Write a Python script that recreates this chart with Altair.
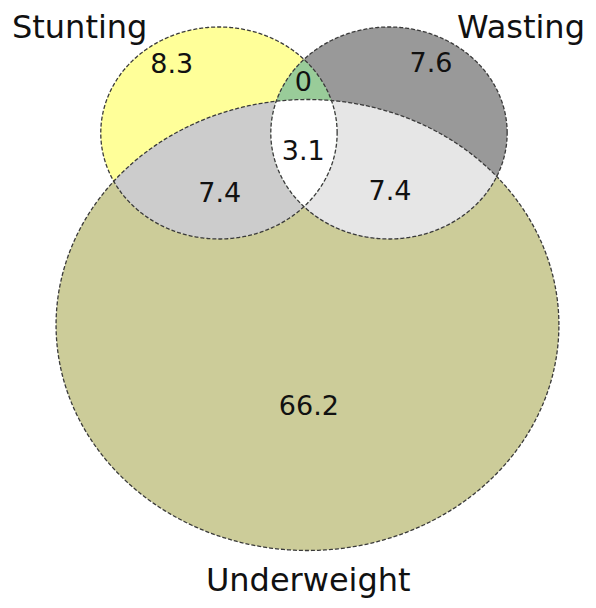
import altair as alt
import numpy as np
import pandas as pd

# ---------------- data ----------------
set_names = ["Stunting", "Wasting", "Underweight"]
region_names = ["Stunting only", "Wasting only", "Underweight only",
                "Stunting & Underweight", "Wasting & Underweight",
                "Stunting & Wasting", "All three"]
region_values = ["8.3", "7.6", "66.2", "7.4", "7.4", "0", "3.1"]

# ---------------- layout (geometry, venn units) ----------------
circle_cx = [-0.794, 0.731, 0.0]
circle_cy = [1.92, 1.92, 0.0]
circle_r = [1.06, 1.06, 2.255]

set_label_x = [-2.043, 1.915, 0.007]
set_label_y = [2.87, 2.87, -2.66]
region_label_x = [-1.218, 1.108, 0.013, -0.787, 0.74, -0.038, -0.038]
region_label_y = [2.517, 2.53, -0.90, 1.233, 1.25, 2.343, 1.65]

# painter's order: (members, colour)
paint_steps = [
    ([2], "#cccc99"),        # Underweight disk
    ([0], "#ffff99"),        # Stunting disk
    ([1], "#999999"),        # Wasting disk
    ([0, 2], "#cccccc"),     # Stunting & Underweight
    ([1, 2], "#e6e6e6"),     # Wasting & Underweight
    ([0, 1], "#99cc99"),     # Stunting & Wasting
    ([0, 1, 2], "#ffffff"),  # all three
]


def shape_rows(key, members, n=900):
    lo_x = max(circle_cx[i] - circle_r[i] for i in members)
    hi_x = min(circle_cx[i] + circle_r[i] for i in members)
    t = np.linspace(0, np.pi, n)
    xs = (lo_x + hi_x) / 2 - (hi_x - lo_x) / 2 * np.cos(t)
    lo = np.full(n, -np.inf)
    hi = np.full(n, np.inf)
    for i in members:
        h = np.sqrt(np.clip(circle_r[i] ** 2 - (xs - circle_cx[i]) ** 2, 0, None))
        lo = np.maximum(lo, circle_cy[i] - h)
        hi = np.minimum(hi, circle_cy[i] + h)
    keep = hi >= lo
    return pd.DataFrame({"shape": key, "x": xs[keep], "y": lo[keep], "y2": hi[keep]})


shapes = pd.concat([shape_rows(f"s{k}", m) for k, (m, _) in enumerate(paint_steps)],
                   ignore_index=True)

outline_rows = []
ang = np.linspace(0, 2 * np.pi, 721)
for i, name in enumerate(set_names):
    for j, a in enumerate(ang):
        outline_rows.append({"circle": name, "idx": j,
                             "x": circle_cx[i] + circle_r[i] * np.cos(a),
                             "y": circle_cy[i] + circle_r[i] * np.sin(a)})
outlines = pd.DataFrame(outline_rows)

set_labels = pd.DataFrame({"text": set_names, "x": set_label_x, "y": set_label_y})
region_labels = pd.DataFrame({"region": region_names, "text": region_values,
                              "x": region_label_x, "y": region_label_y})

xs = alt.Scale(domain=[-2.686, 2.516], nice=False, zero=False)
ys = alt.Scale(domain=[-2.75, 3.17], nice=False, zero=False)

layers = []
for k, (m, col) in enumerate(paint_steps):
    layers.append(
        alt.Chart(shapes).transform_filter(alt.datum.shape == f"s{k}")
        .mark_area(color=col, opacity=1, strokeWidth=0)
        .encode(x=alt.X("x:Q", scale=xs, axis=None),
                y=alt.Y("y:Q", scale=ys, axis=None),
                y2="y2:Q")
    )

outline = alt.Chart(outlines).mark_line(
    color="#3a3a3a", strokeWidth=1.3, strokeDash=[4, 2]
).encode(
    x=alt.X("x:Q", scale=xs, axis=None),
    y=alt.Y("y:Q", scale=ys, axis=None),
    detail="circle:N",
    order="idx:Q",
)

set_text = alt.Chart(set_labels).mark_text(
    font="DejaVu Sans", fontSize=32, color="#111111", align="center", baseline="alphabetic"
).encode(x=alt.X("x:Q", scale=xs, axis=None), y=alt.Y("y:Q", scale=ys, axis=None), text="text:N")

region_text = alt.Chart(region_labels).mark_text(
    font="DejaVu Sans", fontSize=27, color="#111111", align="center", baseline="alphabetic"
).encode(x=alt.X("x:Q", scale=xs, axis=None), y=alt.Y("y:Q", scale=ys, axis=None), text="text:N")

chart = alt.layer(*layers, outline, region_text, set_text).properties(
    width=580, height=592, padding=0,
    autosize=alt.AutoSizeParams(type="none"),
    background="white",
).configure_view(stroke=None)

chart.save("out.html", embed_options={"renderer": "svg", "actions": False})
